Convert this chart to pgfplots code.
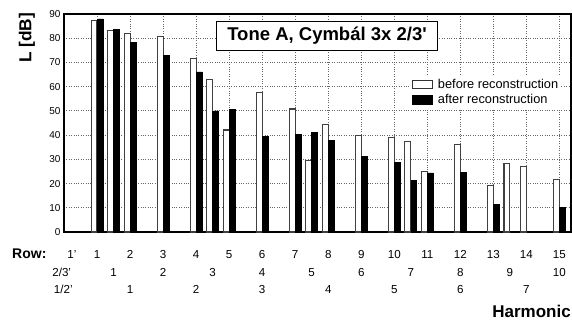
\documentclass[border=0pt]{standalone}
\usepackage{pgfplots}
\pgfplotsset{compat=1.18}
\usepackage{pgfplotstable}
\usepackage{fontspec}
\setmainfont{Liberation Sans}

\pgfplotstableread{
x y
1 87.2
1.5 83.2
2 82.1
3 80.7
4 71.6
4.5 63.1
5 42.1
6 57.7
7 50.8
7.5 29.5
8 44.2
9 39.7
10 39.0
10.5 37.2
11 25.1
12 36.2
13 19.1
13.5 28.2
14 27.1
15 21.6
}\beforetab

\pgfplotstableread{
x y
1 88.0
1.5 83.6
2 78.4
3 72.9
4 66.1
4.5 50.0
5 50.7
6 39.4
7 40.4
7.5 41.2
8 37.9
9 31.3
10 28.9
10.5 21.2
11 24.4
12 24.5
13 11.4
15 10.3
}\aftertab

\tikzset{rowlab/.style={anchor=base, font=\fontsize{11.6bp}{14bp}\selectfont}}

\begin{document}
\begin{tikzpicture}
\path[use as bounding box] (-64bp,-88bp) rectangle (508bp,232bp);
\begin{axis}[
  at={(0,0)}, anchor=south west,
  scale only axis, width=507bp, height=218bp,
  xmin=0, xmax=15.35, ymin=0, ymax=90,
  xtick={1,...,15}, xticklabels={},
  ytick={0,10,...,90},
  grid=major,
  grid style={dotted, black!60, line width=0.8pt},
  major tick length=0pt,
  axis line style={line width=1.1pt},
  tick label style={font=\fontsize{10bp}{12bp}\selectfont},
  /pgf/number format/assume math mode=true,
  clip=false,
  legend cell align=left,
  legend style={at={(0.684,0.716)}, anchor=north west, draw=none, fill=white,
    font=\fontsize{12.8bp}{14bp}\selectfont, inner sep=1bp, row sep=0.5bp,
    /tikz/every odd column/.append style={column sep=3bp}},
]
\addplot[ybar, bar width=0.18, bar shift=-0.09, fill=white, draw=black!75, line width=1.1pt,
  legend image code/.code={\draw[fill=white, draw=black!80, line width=1pt] (0bp,-4.3bp) rectangle (20bp,4.3bp);}]
  table[x=x, y=y] {\beforetab};
\addlegendentry{before reconstruction}
\addplot[ybar, bar width=0.18, bar shift=0.09, fill=black, draw=black, line width=0.6pt,
  legend image code/.code={\draw[fill=black, draw=black] (0bp,-4.3bp) rectangle (20bp,4.3bp);}]
  table[x=x, y=y] {\aftertab};
\addlegendentry{after reconstruction}

% row 1'
\pgfplotsinvokeforeach{1,...,15}{
  \node[rowlab] at (axis cs:#1,0) [yshift=-26.3bp] {#1};
}
% row 2/3'
\node[rowlab] at (axis cs:1.5,0) [yshift=-44bp] {1};
\node[rowlab] at (axis cs:3,0) [yshift=-44bp] {2};
\node[rowlab] at (axis cs:4.5,0) [yshift=-44bp] {3};
\node[rowlab] at (axis cs:6,0) [yshift=-44bp] {4};
\node[rowlab] at (axis cs:7.5,0) [yshift=-44bp] {5};
\node[rowlab] at (axis cs:9,0) [yshift=-44bp] {6};
\node[rowlab] at (axis cs:10.5,0) [yshift=-44bp] {7};
\node[rowlab] at (axis cs:12,0) [yshift=-44bp] {8};
\node[rowlab] at (axis cs:13.5,0) [yshift=-44bp] {9};
\node[rowlab] at (axis cs:15,0) [yshift=-44bp] {10};
% row 1/2'
\node[rowlab] at (axis cs:2,0) [yshift=-61.3bp] {1};
\node[rowlab] at (axis cs:4,0) [yshift=-61.3bp] {2};
\node[rowlab] at (axis cs:6,0) [yshift=-61.3bp] {3};
\node[rowlab] at (axis cs:8,0) [yshift=-61.3bp] {4};
\node[rowlab] at (axis cs:10,0) [yshift=-61.3bp] {5};
\node[rowlab] at (axis cs:12,0) [yshift=-61.3bp] {6};
\node[rowlab] at (axis cs:14,0) [yshift=-61.3bp] {7};
% row headers
\node[rowlab] at (axis cs:0.24,0) [yshift=-26.3bp] {1’};
\node[rowlab] at (axis cs:-0.07,0) [yshift=-44bp] {2/3’};
\node[rowlab] at (axis cs:-0.02,0) [yshift=-61.3bp] {1/2’};
\end{axis}

\node[anchor=base west, font=\bfseries\fontsize{14bp}{16bp}\selectfont, inner sep=0] at (-52bp,-26.3bp) {Row:};
\node[anchor=base east, font=\bfseries\fontsize{17bp}{19bp}\selectfont, inner sep=0] at (507bp,-85bp) {Harmonic};
\node[rotate=90, font=\bfseries\fontsize{17.3bp}{19bp}\selectfont, inner sep=0] at (-37bp,194bp) {L [dB]};
\node[draw, line width=1.2bp, fill=white, minimum width=221bp, minimum height=29bp, inner sep=0,
  font=\bfseries\fontsize{18.5bp}{20bp}\selectfont] at (263bp,196bp) {Tone A, Cymbál 3x 2/3\textquotesingle};
\end{tikzpicture}
\end{document}
